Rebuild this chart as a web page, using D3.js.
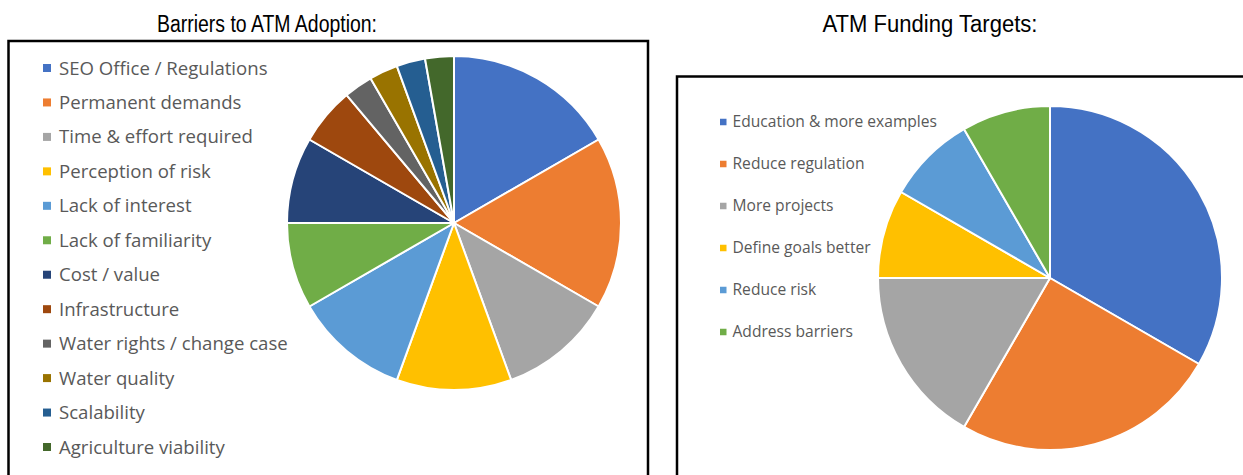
<!DOCTYPE html>
<html>
<head>
<meta charset="utf-8">
<script src="https://cdn.jsdelivr.net/npm/d3@7"></script>
<style>
  html, body { margin: 0; padding: 0; background: #fff; }
  svg { display: block; }
</style>
</head>
<body>
<svg id="chart" width="1243" height="475"></svg>
<script>
// Barriers to ATM adoption (response counts)
const barrierLabels = [
  "SEO Office / Regulations", "Permanent demands", "Time & effort required",
  "Perception of risk", "Lack of interest", "Lack of familiarity",
  "Cost / value", "Infrastructure", "Water rights / change case",
  "Water quality", "Scalability", "Agriculture viability"
];
const barrierValues = [6, 6, 4, 4, 4, 3, 3, 2, 1, 1, 1, 1];
const barrierColors = [
  "#4472C4", "#ED7D31", "#A5A5A5", "#FFC000", "#5B9BD5", "#70AD47",
  "#264478", "#9E480E", "#636363", "#997300", "#255E91", "#43682B"
];

// ATM funding targets (response counts)
const fundingLabels = [
  "Education & more examples", "Reduce regulation", "More projects",
  "Define goals better", "Reduce risk", "Address barriers"
];
const fundingValues = [4, 3, 2, 1, 1, 1];
const fundingColors = ["#4472C4", "#ED7D31", "#A5A5A5", "#FFC000", "#5B9BD5", "#70AD47"];

const svg = d3.select("#chart");

function drawPanel(cfg) {
  const g = svg.append("g");

  // panel title, set in a condensed width
  g.append("text")
    .attr("x", cfg.titleX).attr("y", cfg.titleY)
    .attr("text-anchor", "middle")
    .attr("font-family", "'Liberation Sans', Arial, sans-serif")
    .attr("font-size", 23)
    .attr("textLength", cfg.titleWidth)
    .attr("lengthAdjust", "spacingAndGlyphs")
    .attr("fill", "#000")
    .text(cfg.title);

  // frame (extends past the bottom edge)
  g.append("path")
    .attr("d", d3.line()(cfg.frame))
    .attr("fill", "none")
    .attr("stroke", "#000")
    .attr("stroke-width", 2.5);

  // pie
  const pie = d3.pie().sort(null).value(d => d.value);
  const arc = d3.arc().innerRadius(0).outerRadius(cfg.radius);
  const data = cfg.labels.map((l, i) => ({ label: l, value: cfg.values[i], color: cfg.colors[i] }));
  g.append("g")
    .attr("transform", `translate(${cfg.cx},${cfg.cy})`)
    .selectAll("path")
    .data(pie(data))
    .join("path")
    .attr("d", arc)
    .attr("fill", d => d.data.color)
    .attr("stroke", "#fff")
    .attr("stroke-width", 2)
    .attr("stroke-linejoin", "round");

  // legend
  const y = d3.scalePoint().domain(cfg.labels).range([cfg.legendY0, cfg.legendY1]);
  const items = g.append("g").selectAll("g")
    .data(data)
    .join("g")
    .attr("transform", d => `translate(${cfg.legendX},${y(d.label)})`);
  items.append("rect")
    .attr("x", 0).attr("y", -cfg.swatch / 2)
    .attr("width", cfg.swatch).attr("height", cfg.swatch)
    .attr("fill", d => d.color);
  items.append("text")
    .attr("x", cfg.textDx).attr("y", 0)
    .attr("dy", "0.35em")
    .attr("font-family", "'Open Sans', 'Noto Sans', sans-serif")
    .attr("font-size", cfg.fontSize)
    .attr("fill", "#595959")
    .text(d => d.label);
}

drawPanel({
  title: "Barriers to ATM Adoption:", titleX: 267, titleY: 32, titleWidth: 220,
  frame: [[8.5, 480], [8.5, 41], [648, 41], [648, 480]],
  labels: barrierLabels, values: barrierValues, colors: barrierColors,
  cx: 454, cy: 223, radius: 167,
  legendX: 43, legendY0: 68, legendY1: 447, swatch: 8, textDx: 16, fontSize: 18.6
});

drawPanel({
  title: "ATM Funding Targets:", titleX: 930, titleY: 32, titleWidth: 215,
  frame: [[677, 480], [677, 76.5], [1250, 76.5]],
  labels: fundingLabels, values: fundingValues, colors: fundingColors,
  cx: 1050, cy: 278, radius: 172,
  legendX: 720, legendY0: 122, legendY1: 332, swatch: 6.5, textDx: 12.5, fontSize: 15.6
});
</script>
</body>
</html>
